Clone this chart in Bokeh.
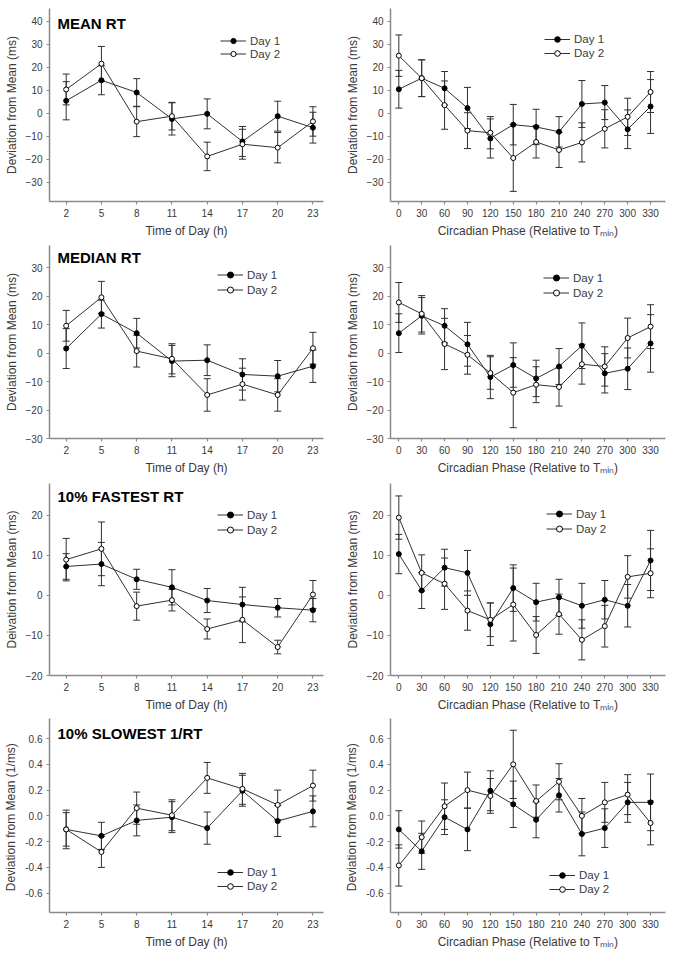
from bokeh.plotting import figure
from bokeh.models import (Range1d, FixedTicker, Whisker, ColumnDataSource, Legend,
                          LegendItem, Label, TeeHead, NumeralTickFormatter)
from bokeh.layouts import column, row
from bokeh.embed import file_html
from bokeh.resources import INLINE

# ---------------- data ----------------
time_x = [2, 5, 8, 11, 14, 17, 20, 23]
phase_x = [0, 30, 60, 90, 120, 150, 180, 210, 240, 270, 300, 330]

mean_time_d1 = [5.4, 14.3, 9.0, -2.5, -0.3, -12.3, -1.3, -6.3]
mean_time_d1_err = [8.3, 6.3, 6.0, 7.0, 6.5, 6.5, 6.5, 6.7]
mean_time_d2 = [10.3, 21.5, -3.7, -1.3, -18.8, -13.5, -15.0, -3.6]
mean_time_d2_err = [6.7, 7.5, 6.5, 6.0, 6.2, 6.5, 6.6, 6.4]

mean_phase_d1 = [10.4, 15.2, 10.8, 2.2, -11.0, -5.0, -6.0, -8.1, 4.0, 4.6, -7.0, 2.9]
mean_phase_d1_err = [8.2, 8.0, 7.3, 9.0, 8.5, 8.8, 7.7, 6.6, 10.2, 7.4, 8.4, 11.7]
mean_phase_d2 = [25.0, 15.2, 3.5, -7.6, -8.5, -19.5, -12.5, -16.0, -12.7, -6.8, -1.6, 9.2]
mean_phase_d2_err = [9.0, 8.0, 10.5, 7.8, 7.0, 14.5, 7.0, 7.6, 8.5, 8.3, 8.1, 8.9]

median_time_d1 = [1.6, 13.7, 7.0, -2.8, -2.5, -7.5, -8.1, -4.6]
median_time_d1_err = [7.0, 4.9, 5.2, 5.5, 5.4, 5.5, 5.5, 5.7]
median_time_d2 = [9.6, 19.6, 0.7, -2.0, -14.7, -10.9, -14.7, 1.7]
median_time_d2_err = [5.4, 5.6, 5.6, 5.3, 5.7, 5.6, 5.7, 5.6]

median_phase_d1 = [7.0, 13.1, 9.6, 3.1, -8.4, -4.2, -8.9, -4.7, 2.6, -7.1, -5.5, 3.4]
median_phase_d1_err = [6.8, 6.4, 6.0, 7.7, 7.6, 7.8, 6.4, 6.3, 8.0, 6.9, 7.3, 10.1]
median_phase_d2 = [17.8, 13.8, 3.2, -0.6, -7.0, -13.9, -11.1, -11.9, -3.9, -4.7, 5.3, 9.3]
median_phase_d2_err = [7.0, 6.4, 9.0, 6.8, 5.7, 12.3, 6.3, 6.7, 7.0, 6.9, 7.0, 7.7]

fast_time_d1 = [7.2, 7.8, 4.0, 2.0, -1.3, -2.3, -3.1, -3.7]
fast_time_d1_err = [3.2, 5.4, 2.5, 4.4, 3.0, 4.3, 2.3, 2.9]
fast_time_d2 = [8.9, 11.6, -2.7, -1.2, -8.4, -6.1, -12.9, 0.2]
fast_time_d2_err = [5.3, 6.7, 3.5, 2.7, 2.5, 5.7, 1.7, 3.5]

fast_phase_d1 = [10.3, 1.2, 6.9, 5.6, -7.2, 1.8, -1.7, -0.5, -2.6, -1.1, -2.6, 8.7]
fast_phase_d1_err = [4.9, 4.5, 4.6, 5.6, 5.3, 5.8, 4.7, 4.5, 5.6, 4.8, 5.3, 7.5]
fast_phase_d2 = [19.4, 5.6, 2.9, -3.8, -6.1, -2.3, -9.9, -4.7, -11.1, -7.7, 4.6, 5.5]
fast_phase_d2_err = [5.4, 4.5, 6.4, 4.9, 4.2, 9.1, 4.6, 5.0, 5.0, 5.2, 5.3, 6.1]

slow_time_d1 = [-0.105, -0.155, -0.035, -0.01, -0.095, 0.195, -0.04, 0.035]
slow_time_d1_err = [0.13, 0.105, 0.12, 0.12, 0.125, 0.12, 0.12, 0.12]
slow_time_d2 = [-0.105, -0.28, 0.06, 0.005, 0.295, 0.21, 0.085, 0.235]
slow_time_d2_err = [0.15, 0.12, 0.125, 0.12, 0.12, 0.12, 0.115, 0.12]

slow_phase_d1 = [-0.105, -0.275, -0.01, -0.105, 0.195, 0.09, -0.03, 0.16, -0.14, -0.095, 0.105, 0.105]
slow_phase_d1_err = [0.145, 0.14, 0.135, 0.165, 0.155, 0.18, 0.14, 0.13, 0.17, 0.15, 0.155, 0.22]
slow_phase_d2 = [-0.385, -0.165, 0.075, 0.2, 0.155, 0.4, 0.115, 0.265, 0.0, 0.105, 0.165, -0.055]
slow_phase_d2_err = [0.16, 0.125, 0.18, 0.14, 0.135, 0.265, 0.125, 0.14, 0.135, 0.155, 0.155, 0.17]

ms_ticks = [-30, -20, -10, 0, 10, 20, 30, 40]
fast_ticks = [-20, -10, 0, 10, 20]
slow_ticks = [-0.6, -0.4, -0.2, 0.0, 0.2, 0.4, 0.6]

titles = ["MEAN RT", "MEDIAN RT", "10% FASTEST RT", "10% SLOWEST 1/RT"]
time_label = "Time of Day (h)"
phase_label = "Circadian Phase (Relative to T\u2098\u1d62\u2099)"
ms_label = "Deviation from Mean (ms)"
ms_label_typo = "Deivation from Mean (ms)"
inv_label = "Deviation from Mean  (1/ms)"

# ---------------- style ----------------
FONT = "Liberation Sans"
AX = "#8a8a8a"
TXT = "#3a3a3a"
LINE = "#303030"

FIG_W = 337
# (left border, frame width, right border)
LEFT_COL = (49, 274, 14)
RIGHT_COL = (53, 275, 9)

LEFT_XR = (0.58, 23.9)
RIGHT_XR = (-10.9, 349.6)


def panel(col, x, d1, e1, d2, e2, yr, yticks, xlabel, ylabel, title,
          borders, leg_loc, leg_h, fmt=None):
    bt, fh, bb = borders
    bl, fw, br = LEFT_COL if col == 0 else RIGHT_COL
    xr = LEFT_XR if col == 0 else RIGHT_XR
    p = figure(width=bl + fw + br, height=bt + fh + bb, output_backend="svg",
               toolbar_location=None, x_range=Range1d(*xr), y_range=Range1d(*yr),
               min_border_left=bl, min_border_right=br, min_border_top=bt,
               min_border_bottom=bb)
    p.outline_line_color = None
    p.grid.visible = False
    p.background_fill_color = "white"
    for ax in (p.xaxis[0], p.yaxis[0]):
        ax.axis_line_color = AX
        ax.axis_line_width = 1.5
        ax.major_tick_line_color = AX
        ax.major_tick_line_width = 1.2
        ax.major_tick_out = 3
        ax.major_tick_in = 0
        ax.minor_tick_line_color = None
        ax.major_label_text_font = FONT
        ax.major_label_text_font_size = "10px"
        ax.major_label_text_color = TXT
        ax.major_label_standoff = 4
        ax.axis_label_text_font = FONT
        ax.axis_label_text_font_size = "12px"
        ax.axis_label_text_font_style = "normal"
        ax.axis_label_text_color = TXT
    p.xaxis.ticker = FixedTicker(ticks=x)
    p.yaxis.ticker = FixedTicker(ticks=yticks)
    if fmt:
        p.yaxis.formatter = NumeralTickFormatter(format=fmt)
    p.xaxis.axis_label = xlabel
    p.yaxis.axis_label = ylabel
    p.xaxis.axis_label_standoff = 4
    p.yaxis.axis_label_standoff = 4

    for d, e in ((d1, e1), (d2, e2)):
        src = ColumnDataSource(dict(x=x, lo=[a - b for a, b in zip(d, e)],
                                    hi=[a + b for a, b in zip(d, e)]))
        w = Whisker(source=src, base="x", upper="hi", lower="lo",
                    line_color=LINE, line_width=1,
                    upper_head=TeeHead(size=7, line_color=LINE, line_width=1),
                    lower_head=TeeHead(size=7, line_color=LINE, line_width=1))
        w.level = "underlay"
        p.add_layout(w)

    l1 = p.line(x, d1, line_color=LINE, line_width=1)
    l2 = p.line(x, d2, line_color=LINE, line_width=1)
    s1 = p.scatter(x, d1, size=5, fill_color="black", line_color="black", line_width=1)
    s2 = p.scatter(x, d2, size=5, fill_color="white", line_color="black", line_width=1)

    leg = Legend(items=[LegendItem(label="Day 1", renderers=[l1, s1]),
                        LegendItem(label="Day 2", renderers=[l2, s2])],
                 location=leg_loc, padding=0, margin=0, spacing=0,
                 border_line_color=None, background_fill_alpha=0,
                 glyph_width=26, glyph_height=leg_h, label_height=leg_h,
                 label_standoff=4, label_text_font=FONT,
                 label_text_font_size="11.5px", label_text_color=TXT)
    p.add_layout(leg)

    if title:
        py = (yr[1] - yr[0]) / fh
        px = (xr[1] - xr[0]) / fw
        p.add_layout(Label(x=xr[0] + 8 * px, y=yr[1] - (title[1]) * py, text=title[0],
                           text_font=FONT, text_font_size="15px",
                           text_font_style="bold", text_color="black",
                           text_baseline="middle", text_align="left"))
    return p


# (top border, frame height, bottom border) per row; page has no body margin
rows_cfg = [
    (8, 193, 39),
    (5, 193, 40),
    (5, 192, 40),
    (3, 194, 39),
]

p1 = panel(0, time_x, mean_time_d1, mean_time_d1_err, mean_time_d2, mean_time_d2_err,
           (-38.4, 45.5), ms_ticks, time_label, ms_label, (titles[0], 14.5),
           rows_cfg[0], (171, 141), 13)
p2 = panel(1, phase_x, mean_phase_d1, mean_phase_d1_err, mean_phase_d2, mean_phase_d2_err,
           (-38.4, 45.5), ms_ticks, phase_label, ms_label, None,
           rows_cfg[0], (154, 141), 14)
p3 = panel(0, time_x, median_time_d1, median_time_d1_err, median_time_d2, median_time_d2_err,
           (-30, 37.8), ms_ticks[:-1], time_label, ms_label, (titles[1], 11.7),
           rows_cfg[1], (168, 141), 15)
p4 = panel(1, phase_x, median_phase_d1, median_phase_d1_err, median_phase_d2, median_phase_d2_err,
           (-30, 37.8), ms_ticks[:-1], phase_label, ms_label, None,
           rows_cfg[1], (153, 138), 15)
p5 = panel(0, time_x, fast_time_d1, fast_time_d1_err, fast_time_d2, fast_time_d2_err,
           (-20, 27.9), fast_ticks, time_label, ms_label_typo, (titles[2], 13),
           rows_cfg[2], (168, 138), 15)
p6 = panel(1, phase_x, fast_phase_d1, fast_phase_d1_err, fast_phase_d2, fast_phase_d2_err,
           (-20, 27.9), fast_ticks, phase_label, ms_label, None,
           rows_cfg[2], (156, 139), 15)
p7 = panel(0, time_x, slow_time_d1, slow_time_d1_err, slow_time_d2, slow_time_d2_err,
           (-0.75, 0.756), slow_ticks, time_label, inv_label, (titles[3], 15),
           rows_cfg[3], (168, 19), 14, fmt="0.0")
p8 = panel(1, phase_x, slow_phase_d1, slow_phase_d1_err, slow_phase_d2, slow_phase_d2_err,
           (-0.75, 0.756), slow_ticks, phase_label, inv_label, None,
           rows_cfg[3], (159, 16), 14, fmt="0.0")

layout = column(row(p1, p2), row(p3, p4), row(p5, p6), row(p7, p8))
open("out.html", "w").write(file_html(layout, INLINE))
